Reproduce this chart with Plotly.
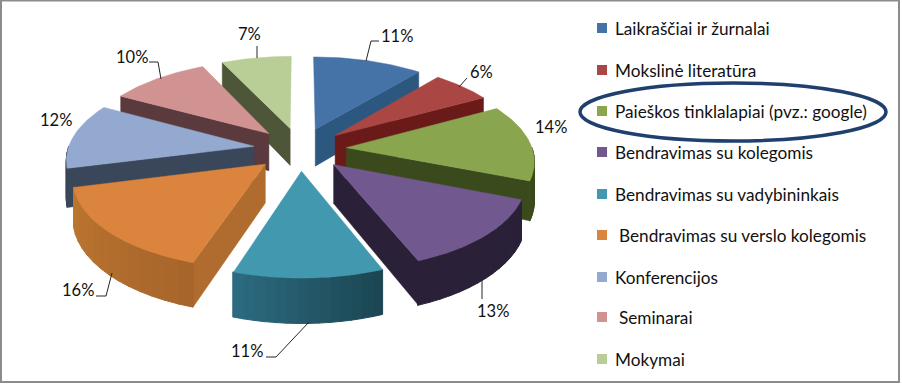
import numpy as np
import plotly.graph_objects as go

categories = ["Laikraščiai ir žurnalai", "Mokslinė literatūra", "Paieškos tinklalapiai (pvz.: google)",
              "Bendravimas su kolegomis", "Bendravimas su vadybininkais", "Bendravimas su verslo kolegomis",
              "Konferencijos", "Seminarai", "Mokymai"]
values = [11, 6, 14, 13, 11, 16, 12, 10, 7]
labels = ["11%", "6%", "14%", "13%", "11%", "16%", "12%", "10%", "7%"]

top_colors = ["#4572A7", "#AA4643", "#89A54E", "#71588F", "#4198AF", "#DB843D", "#93A9CF", "#D19392", "#B9CD96"]
wall_colors = ["#2C5880", "#6A1B19", "#3B4A1C", "#2A2138", "#2C6A80", "#B06C2E", "#3A4659", "#5A3A3C", "#4D5636"]
rim_dark = ["#2C5880", "#6A1B19", "#3B4A1C", "#2A2138", "#1B4652", "#A8652B", "#3A4659", "#5A3A3C", "#4D5636"]
rim_light = ["#2C5880", "#6A1B19", "#3B4A1C", "#2A2138", "#2C6A80", "#BC7630", "#3A4659", "#5A3A3C", "#4D5636"]
draw_order = [8, 0, 7, 1, 6, 2, 5, 3, 4]

# projection of the exploded disk
CX, CY, F, A, P, DEPTH, PULL = 300, 149, 186, 86.5, 0.13, 38, 0.25


def project(X, Y, down=0.0):
    w = 1 + P * Y
    return CX + F * X / w, CY - A * Y / w + down * DEPTH / w


def hexmix(c1, c2, t):
    a = [int(c1[i:i + 2], 16) for i in (1, 3, 5)]
    b = [int(c2[i:i + 2], 16) for i in (1, 3, 5)]
    return "rgb(%d,%d,%d)" % tuple(round(u + (v - u) * t) for u, v in zip(a, b))


def poly(fig, xs, ys, color, width=0.5):
    fig.add_trace(go.Scatter(x=list(xs) + [xs[0]], y=list(ys) + [ys[0]], mode="lines", fill="toself",
                             fillcolor=color, line=dict(color=color, width=width), hoverinfo="skip",
                             showlegend=False))


fig = go.Figure()
edges = np.concatenate([[0], np.cumsum(values)]) / sum(values) * 2 * np.pi

for i in draw_order:
    t1, t2 = edges[i], edges[i + 1]
    mid = (t1 + t2) / 2
    ox, oy = PULL * np.sin(mid), PULL * np.cos(mid)
    # radial walls that face the viewer
    for t, visible in ((t1, np.sin(t1) < 0), (t2, np.sin(t2) > 0)):
        if visible:
            xa, ya = ox + np.sin(t), oy + np.cos(t)
            p = [project(ox, oy), project(xa, ya), project(xa, ya, 1), project(ox, oy, 1)]
            poly(fig, [q[0] for q in p], [q[1] for q in p], wall_colors[i])
    # outer wall, front half only, in shaded strips
    lo, hi = max(t1, np.pi / 2), min(t2, 3 * np.pi / 2)
    if lo < hi:
        cuts = np.linspace(lo, hi, 15)
        for k in range(14):
            ts = np.linspace(cuts[k], cuts[k + 1] + 0.004, 4)
            xa, ya = ox + np.sin(ts), oy + np.cos(ts)
            up = project(xa, ya)
            dn = project(xa[::-1], ya[::-1], 1)
            shade = hexmix(rim_dark[i], rim_light[i], k / 13)
            poly(fig, list(up[0]) + list(dn[0]), list(up[1]) + list(dn[1]), shade, 1)
    # top face
    ts = np.linspace(t1, t2, 50)
    rx = np.concatenate([[ox], ox + np.sin(ts)])
    ry = np.concatenate([[oy], oy + np.cos(ts)])
    sx, sy = project(rx, ry)
    poly(fig, list(sx), list(sy), top_colors[i])

# data labels and leader lines
label_pos = [(397, 36), (481, 72), (551, 127), (493, 311), (247, 351), (78, 290), (56, 120), (132, 57), (249, 34)]
leaders = [[(366, 61), (371, 41), (379, 41)], [(459, 87), (467, 78)], [], [(482, 277), (482, 299)],
           [(309, 322), (276, 357), (266, 357)], [(112, 273), (106, 296), (96, 296)], [],
           [(161, 79), (158, 62), (149, 62)], [(257, 58), (257, 46)]]
for lab, (x, y), pts in zip(labels, label_pos, leaders):
    if pts:
        fig.add_trace(go.Scatter(x=[p[0] for p in pts], y=[p[1] for p in pts], mode="lines",
                                 line=dict(color="#262626", width=1), hoverinfo="skip", showlegend=False))
    fig.add_annotation(x=x, y=y, text=lab, showarrow=False, xanchor="center", yanchor="middle",
                       font=dict(family="Lato", size=16.5, color="#111111"))

# legend
legend_y = [28, 70, 111, 152, 194, 235, 277, 317, 359]
text_x = [613, 613, 613, 613, 613, 617, 613, 617, 613]
for name, col, y, tx in zip(categories, top_colors, legend_y, text_x):
    fig.add_trace(go.Scatter(x=[602], y=[y], mode="markers", hoverinfo="skip", showlegend=False,
                             marker=dict(symbol="square", size=10, color=col)))
    fig.add_annotation(x=tx, y=y, text=name, showarrow=False, xanchor="left", yanchor="middle",
                       font=dict(family="Lato", size=17.2, color="#111111"))

fig.update_layout(
    width=902, height=384, margin=dict(l=0, r=0, t=0, b=0),
    paper_bgcolor="white", plot_bgcolor="white", showlegend=False,
    xaxis=dict(range=[0, 902], visible=False, fixedrange=True),
    yaxis=dict(range=[384, 0], visible=False, fixedrange=True),
    shapes=[
        dict(type="rect", xref="x", yref="y", x0=1, y0=0.5, x1=899, y1=382,
             line=dict(color="#8C8C8C", width=2)),
        dict(type="circle", xref="x", yref="y", x0=580, y0=83, x1=886, y1=141,
             line=dict(color="#1F3F6E", width=3.5)),
    ],
)
fig.write_html("out.html", config={"displayModeBar": False}, post_script="document.body.style.margin='0';")
